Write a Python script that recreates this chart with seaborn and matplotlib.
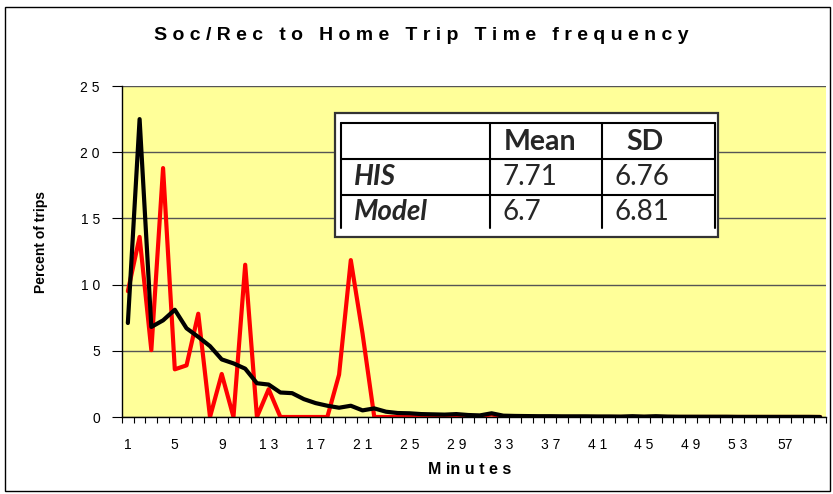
import matplotlib
matplotlib.use("Agg")
import matplotlib.pyplot as plt
import numpy as np
import pandas as pd
import seaborn as sns
from matplotlib.patches import Rectangle
from matplotlib.lines import Line2D

# Trip time frequency (percent of trips) by minute
minutes = list(range(1, 61))
his_pct = [9.5, 13.6, 5.05, 18.8, 3.6, 3.9, 7.8, 0.0, 3.25, 0.0,
           11.5, 0.0, 2.1, 0.0, 0.0, 0.0, 0.0, 0.0, 3.2, 11.85,
           6.3, 0.0, 0.0, 0.0, 0.0, 0.0, 0.0, 0.0, 0.1, 0.0,
           0.05, 0.2, 0.0, 0.0, 0.0, 0.0, 0.0, 0.0, 0.0, 0.0,
           0.0, 0.0, 0.0, 0.0, 0.0, 0.0, 0.0, 0.0, 0.0, 0.0,
           0.0, 0.0, 0.0, 0.0, 0.0, 0.0, 0.0, 0.0, 0.0, 0.0]
model_pct = [7.1, 22.5, 6.8, 7.3, 8.1, 6.7, 6.05, 5.35, 4.35, 4.05,
             3.65, 2.55, 2.45, 1.85, 1.8, 1.35, 1.05, 0.85, 0.7, 0.85,
             0.5, 0.65, 0.4, 0.3, 0.28, 0.22, 0.2, 0.18, 0.22, 0.15,
             0.12, 0.28, 0.1, 0.08, 0.07, 0.06, 0.06, 0.05, 0.05, 0.05,
             0.04, 0.04, 0.03, 0.06, 0.03, 0.06, 0.03, 0.02, 0.02, 0.02,
             0.02, 0.02, 0.01, 0.01, 0.01, 0.01, 0.01, 0.01, 0.01, 0.0]
series_names = ["HIS", "Model"]
series_colors = ["#FF0000", "#000000"]

y_ticks = [0, 5, 10, 15, 20, 25]
y_tick_labels = ["0", "5", "1 0", "1 5", "2 0", "2 5"]
x_label_minutes = list(range(1, 58, 4))
x_tick_labels = ["1", "5", "9", "1 3", "1 7", "2 1", "2 5", "2 9", "3 3",
                 "3 7", "4 1", "4 5", "4 9", "5 3", "57"]

title_text = "S o c / R e c   t o   H o m e   T r i p   T i m e   f r e q u e n c y"
x_title = "M in u t e s"
y_title = "Percent of trips"

stats_header = ["", "Mean", "SD"]
stats_rows = [["HIS", "7.71", "6.76"],
              ["Model", "6.7", "6.81"]]

sns.set_style("white")
plt.rcParams["font.family"] = ["Liberation Sans", "DejaVu Sans"]

W, H = 833, 494
fig = plt.figure(figsize=(W / 100, H / 100), dpi=100)
fig.patch.set_facecolor("white")


def fx(px):
    return px / W


def fy(py):
    return 1 - py / H


# outer chart frame
fig.add_artist(Rectangle((fx(5), fy(491)), fx(830) - fx(5), fy(7) - fy(491),
                         transform=fig.transFigure, fill=False,
                         edgecolor="black", linewidth=1.0))

ax = fig.add_axes([fx(122), fy(417), fx(826) - fx(122), fy(86) - fy(417)])
ax.set_facecolor("#FFFF99")

df = pd.DataFrame({
    "Minutes": minutes * 2,
    "Percent": his_pct + model_pct,
    "Series": [series_names[0]] * len(minutes) + [series_names[1]] * len(minutes),
})
sns.lineplot(data=df, x="Minutes", y="Percent", hue="Series",
             palette=dict(zip(series_names, series_colors)),
             linewidth=3.0, legend=False, estimator=None, ax=ax)

ax.set_xlim(0.5, 60.5)
ax.set_ylim(0, 25)
ax.set_axisbelow(True)
ax.yaxis.grid(True, color="#555555", linewidth=1.0)
ax.xaxis.grid(False)
for side in ("top", "right"):
    ax.spines[side].set_visible(False)
for side in ("left", "bottom"):
    ax.spines[side].set_color("black")
    ax.spines[side].set_linewidth(1.0)

ax.set_yticks(y_ticks)
ax.set_yticklabels(y_tick_labels)
ax.set_xticks(x_label_minutes)
ax.set_xticklabels(x_tick_labels)
ax.set_xticks(np.arange(0.5, 61, 1), minor=True)
ax.tick_params(axis="x", which="major", length=0, pad=15, labelsize=10,
               labelcolor="black")
ax.tick_params(axis="x", which="minor", length=4, width=0.8, color="black",
               direction="out", bottom=True)
ax.tick_params(axis="y", which="major", length=7, width=0.8, color="black",
               direction="out", pad=9, labelsize=10, labelcolor="black", left=True)
ax.set_xlabel("")
ax.set_ylabel("")

fig.text(fx(421), fy(36), title_text, ha="center", va="center",
         fontsize=14, fontweight="bold", color="black")
fig.text(fx(470), fy(469), x_title, ha="center", va="center",
         fontsize=11.5, fontweight="bold", color="black")
fig.text(fx(41), fy(242), y_title, ha="center", va="center", rotation=90,
         fontsize=10, fontweight="bold", color="black")

# statistics table
fig.add_artist(Rectangle((fx(335), fy(236.7)), fx(718) - fx(335), fy(112.7) - fy(236.7),
                         transform=fig.transFigure, facecolor="white",
                         edgecolor="#333333", linewidth=1.6, zorder=5))
col_x = [340.7, 490, 601.7, 715]
row_y = [123.3, 159.3, 195, 228]
for yy in row_y[:3]:
    fig.add_artist(Line2D([fx(col_x[0]), fx(col_x[-1])], [fy(yy), fy(yy)],
                          transform=fig.transFigure, color="black",
                          linewidth=1.5, zorder=6))
for xx in col_x:
    fig.add_artist(Line2D([fx(xx), fx(xx)], [fy(row_y[0]), fy(row_y[-1])],
                          transform=fig.transFigure, color="black",
                          linewidth=1.5, zorder=6))

table_font = ["Lato", "DejaVu Sans"]
fig.text(fx(540.5), fy(142.5), stats_header[1], ha="center", va="center",
         fontsize=20.5, fontweight="bold", family=table_font, zorder=7)
fig.text(fx(645), fy(142.5), stats_header[2], ha="center", va="center",
         fontsize=20.5, fontweight="bold", family=table_font, zorder=7)
row_centers = [177, 211.5]
for (name, mean, sd), yc in zip(stats_rows, row_centers):
    fig.text(fx(354), fy(yc), name, ha="left", va="center", fontsize=20,
             fontweight="bold", fontstyle="italic", family=table_font, zorder=7)
    fig.text(fx(502), fy(yc), mean, ha="left", va="center", fontsize=20,
             family=table_font, zorder=7)
    fig.text(fx(615), fy(yc), sd, ha="left", va="center", fontsize=20,
             family=table_font, zorder=7)

fig.savefig("out.png", dpi=100)
